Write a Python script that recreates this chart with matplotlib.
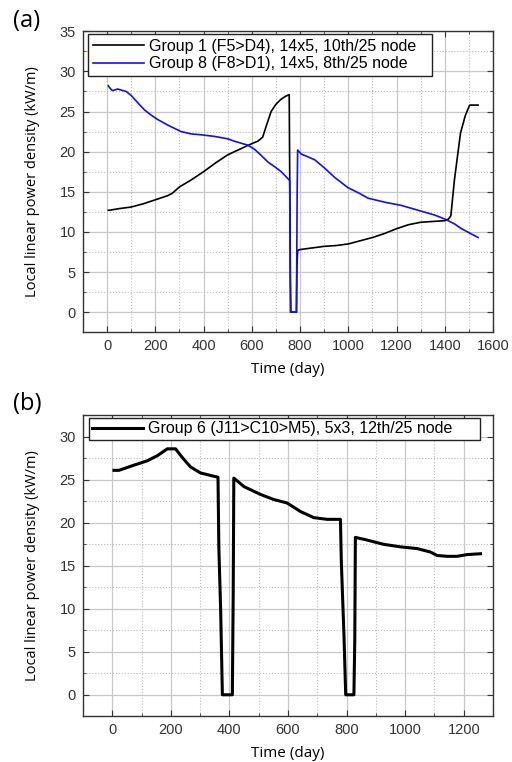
import matplotlib

matplotlib.use("Agg")
import matplotlib.pyplot as plt
from matplotlib.ticker import MultipleLocator

# panel (a) data
g1_day = [5, 10, 50, 100, 150, 200, 250, 270, 300, 350, 400, 450, 500, 550, 600, 625, 645,
          660, 680, 700, 720, 740, 755, 757, 760, 762, 785, 787, 790, 800, 850, 900, 950,
          1000, 1050, 1100, 1150, 1200, 1250, 1300, 1350, 1400, 1415, 1425, 1440, 1465,
          1485, 1503, 1538]
g1_val = [12.7, 12.7, 12.9, 13.1, 13.5, 14.0, 14.5, 14.8, 15.6, 16.5, 17.5, 18.6, 19.6, 20.3,
          21.0, 21.3, 21.8, 23.2, 25.0, 25.9, 26.5, 26.9, 27.1, 17.5, 4.3, 0.0, 0.0, 5.8, 7.7,
          7.8, 8.0, 8.2, 8.3, 8.5, 8.9, 9.3, 9.8, 10.4, 10.9, 11.2, 11.3, 11.4, 11.6, 12.0,
          16.5, 22.3, 24.5, 25.8, 25.8]

g8_day = [5, 15, 23, 44, 79, 100, 130, 155, 185, 210, 252, 307, 350, 390, 445, 500, 528, 584,
          611, 640, 667, 700, 722, 757, 758, 760, 785, 788, 790, 805, 860, 900, 943, 999,
          1040, 1082, 1151, 1220, 1289, 1358, 1400, 1440, 1469, 1538]
g8_val = [28.2, 27.8, 27.6, 27.8, 27.5, 27.0, 26.0, 25.2, 24.5, 24.0, 23.3, 22.5, 22.2, 22.1,
          21.9, 21.6, 21.3, 20.8, 20.3, 19.5, 18.7, 18.0, 17.5, 16.4, 10.5, 0.0, 0.0, 15.0,
          20.2, 19.7, 19.0, 18.0, 16.8, 15.5, 14.9, 14.2, 13.7, 13.3, 12.7, 12.1, 11.6, 11.0,
          10.4, 9.3]

# panel (b) data
g6_day = [6, 23, 74, 119, 154, 188, 216, 239, 267, 301, 336, 361, 364, 370, 376, 410, 413,
          415, 450, 506, 552, 597, 643, 688, 734, 779, 782, 791, 797, 825, 828, 830, 869, 926,
          984, 1041, 1086, 1109, 1143, 1177, 1211, 1257]
g6_val = [26.1, 26.1, 26.7, 27.2, 27.8, 28.6, 28.6, 27.6, 26.5, 25.8, 25.5, 25.3, 17.0, 10.0,
          0.0, 0.0, 12.0, 25.2, 24.2, 23.3, 22.7, 22.3, 21.3, 20.6, 20.4, 20.4, 15.5, 7.0, 0.0,
          0.0, 6.5, 18.3, 18.0, 17.5, 17.2, 17.0, 16.6, 16.2, 16.1, 16.1, 16.3, 16.4]

plt.rcParams["font.family"] = ["Liberation Sans", "DejaVu Sans"]

fig = plt.figure(figsize=(5.12, 7.62), dpi=100)
ax1 = fig.add_axes([0.162, 0.564, 0.801, 0.395])
ax2 = fig.add_axes([0.162, 0.060, 0.801, 0.395])


def style(ax, xlim, ylim, xstep, ystep):
    ax.set_xlim(*xlim)
    ax.set_ylim(*ylim)
    ax.xaxis.set_major_locator(MultipleLocator(xstep))
    ax.xaxis.set_minor_locator(MultipleLocator(xstep / 2))
    ax.yaxis.set_major_locator(MultipleLocator(ystep))
    ax.yaxis.set_minor_locator(MultipleLocator(ystep / 2))
    ax.grid(which="major", color="#c8c8c8", lw=0.9, ls="-")
    ax.grid(which="minor", color="#bbbbbb", lw=0.8, ls=":")
    ax.set_axisbelow(True)
    ax.tick_params(which="both", direction="in", top=True, right=True,
                   labelsize=10.5, labelcolor="#333333", color="#333333")
    ax.tick_params(which="major", length=4, pad=5)
    ax.tick_params(which="minor", length=2)
    for s in ax.spines.values():
        s.set_color("#333333")
        s.set_linewidth(1.0)
    ax.set_xlabel("Time (day)", fontsize=11, family="Open Sans", labelpad=6)
    ax.set_ylabel("Local linear power density (kW/m)", fontsize=10.5,
                  family="Open Sans", labelpad=14)


ax1.plot(g1_day, g1_val, color="black", lw=1.2, label="Group 1 (F5>D4), 14x5, 10th/25 node")
ax1.plot(g8_day, g8_val, color="#1010f0", lw=1.2, label="Group 8 (F8>D1), 14x5, 8th/25 node")
style(ax1, (-100, 1600), (-2.5, 35), 200, 5)
leg1 = ax1.legend(loc="upper left", bbox_to_anchor=(0.012, 0.0, 0.839, 0.990), mode="expand",
                  fontsize=11.5, frameon=True, fancybox=False,
                  edgecolor="#222222", borderaxespad=0.0, handlelength=3.2,
                  borderpad=0.3, labelspacing=0.15, handletextpad=0.3)
leg1.get_frame().set_linewidth(1.0)
leg1.get_frame().set_alpha(1)

ax2.plot(g6_day, g6_val, color="black", lw=2.2, label="Group 6 (J11>C10>M5), 5x3, 12th/25 node")
style(ax2, (-100, 1300), (-2.5, 32.5), 200, 5)
leg2 = ax2.legend(loc="upper left", bbox_to_anchor=(0.015, 0.0, 0.953, 0.990), mode="expand",
                  fontsize=11.5, frameon=True, fancybox=False,
                  edgecolor="#222222", borderaxespad=0.0, handlelength=3.2,
                  borderpad=0.2, handletextpad=0.3)
leg2.get_frame().set_linewidth(1.0)
leg2.get_frame().set_alpha(1)

fig.text(0.026, 0.988, "(a)", fontsize=17, family="Open Sans", va="top", ha="left")
fig.text(0.026, 0.486, "(b)", fontsize=17, family="Open Sans", va="top", ha="left")

fig.savefig("out.png", dpi=100)
